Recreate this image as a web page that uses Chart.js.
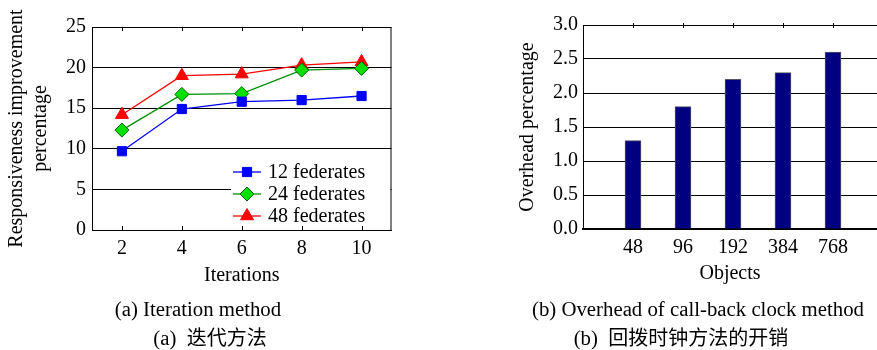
<!DOCTYPE html>
<html><head><meta charset="utf-8">
<script src="https://cdn.jsdelivr.net/npm/chart.js@4/dist/chart.umd.min.js"></script>
<style>
html,body{margin:0;padding:0;background:#fff;width:877px;height:350px;overflow:hidden;}
.box{position:absolute;}
.cap{position:absolute;font-family:"Liberation Serif",serif;font-size:20.8px;color:#000;white-space:nowrap;transform:translateX(-50%);line-height:24px;}
.cjk{font-family:"Noto Sans CJK SC",sans-serif;font-size:20px;}
</style></head><body>
<div class="box" style="left:0;top:0;width:400px;height:300px;"><canvas id="c1" width="400" height="300"></canvas></div>
<div class="box" style="left:500px;top:0;width:377px;height:300px;"><canvas id="c2" width="377" height="300"></canvas></div>
<div class="cap" style="left:198px;top:297px;">(a) Iteration method</div>
<div class="cap" style="left:210px;top:325px;">(a)&nbsp; <span class="cjk">迭代方法</span></div>
<div class="cap" style="left:698px;top:297px;">(b) Overhead of call-back clock method</div>
<div class="cap" style="left:681px;top:325px;">(b)&nbsp; <span class="cjk">回拨时钟方法的开销</span></div>
<script>
// ---- data: chart (a) ----
const iterations = [2, 4, 6, 8, 10];
const fed12 = [9.7, 14.9, 15.8, 16.0, 16.5];
const fed24 = [12.3, 16.7, 16.8, 19.7, 19.9];
const fed48 = [14.2, 19.0, 19.2, 20.3, 20.7];
const seriesLabels = ['12 federates', '24 federates', '48 federates'];
const yTicksA = [0, 5, 10, 15, 20, 25];
// ---- data: chart (b) ----
const objects = ['48', '96', '192', '384', '768'];
const overhead = [1.3, 1.8, 2.2, 2.3, 2.6];
const yTicksB = [0.0, 0.5, 1.0, 1.5, 2.0, 2.5, 3.0];

const SERIF = '"Liberation Serif", serif';
const f20 = {family: SERIF, size: 20, lineHeight: 1.2};

const boxPlugin = {
  id: 'boxA',
  afterDraw(chart) {
    const {ctx, chartArea: a} = chart;
    ctx.save();
    ctx.strokeStyle = '#000'; ctx.lineWidth = 1;
    ctx.strokeRect(a.left + 0.5, a.top + 0.5, a.right - a.left - 1, a.bottom - a.top);
    const xs = chart.scales.x;
    ctx.beginPath();
    iterations.forEach(v => {
      const px = Math.round(xs.getPixelForValue(v)) + 0.5;
      ctx.moveTo(px, a.bottom); ctx.lineTo(px, a.bottom - 4);
      ctx.moveTo(px, a.top); ctx.lineTo(px, a.top + 4);
    });
    ctx.stroke();
    ctx.restore();
  }
};

const legendPlugin = {
  id: 'legA',
  afterDatasetsDraw(chart) {
    const {ctx, chartArea: a} = chart;
    ctx.save();
    ctx.fillStyle = '#fff';
    ctx.fillRect(231, 161, a.right - 232, a.bottom - 162);
    const ys = [172, 194, 216];
    chart.data.datasets.forEach((ds, i) => {
      const y = ys[i];
      ctx.strokeStyle = ds.borderColor; ctx.lineWidth = 1.3;
      ctx.beginPath(); ctx.moveTo(233, y); ctx.lineTo(261, y); ctx.stroke();
      ctx.fillStyle = ds.pointBackgroundColor; ctx.strokeStyle = ds.pointBorderColor; ctx.lineWidth = 1;
      Chart.helpers.drawPoint(ctx, {pointStyle: ds.pointStyle, rotation: 0, borderWidth: 1, radius: ds.pointRadius}, 247, y);
      ctx.fillStyle = '#000';
      ctx.font = '20px ' + SERIF;
      ctx.textBaseline = 'middle'; ctx.textAlign = 'left';
      ctx.fillText(ds.label, 268, y + 1);
    });
    ctx.restore();
  }
};

function mk(label, vals, line, fill, border, style, r) {
  return {
    label, data: iterations.map((x, i) => ({x, y: vals[i]})),
    borderColor: line, borderWidth: 1.3,
    pointStyle: style, pointRadius: r, pointHoverRadius: r,
    pointBackgroundColor: fill, pointBorderColor: border, pointBorderWidth: 1,
    tension: 0, fill: false
  };
}

const dsA = [
  mk(seriesLabels[0], fed12, '#0000ff', '#0000ff', '#0000ee', 'rect', 6.5),
  mk(seriesLabels[1], fed24, '#009000', '#00e000', '#006000', 'rectRot', 7),
  mk(seriesLabels[2], fed48, '#ff0000', '#ff0000', '#ff0000', 'triangle', 7.5)
];

new Chart(document.getElementById('c1'), {
  type: 'line',
  data: {datasets: dsA},
  options: {
    responsive: false, animation: false, devicePixelRatio: 1,
    layout: {padding: {left: 0, right: 8, top: 27, bottom: 0}},
    plugins: {legend: {display: false}, tooltip: {enabled: false}},
    scales: {
      x: {
        type: 'linear', min: 1, max: 11,
        afterBuildTicks: s => { s.ticks = iterations.map(v => ({value: v})); },
        afterFit: s => { s.height = 70; },
        grid: {display: false, drawTicks: false},
        border: {display: true, color: '#000', width: 1},
        ticks: {font: f20, color: '#000', padding: 7, maxRotation: 0, autoSkip: false},
        title: {display: true, text: 'Iterations', font: f20, color: '#000', padding: {top: 0, bottom: 12}}
      },
      y: {
        min: 0, max: 25,
        afterBuildTicks: s => { s.ticks = yTicksA.map(v => ({value: v})); },
        afterFit: s => { s.width = 92; },
        grid: {color: '#000', lineWidth: 1, drawTicks: false},
        border: {display: true, color: '#000', width: 1},
        ticks: {font: f20, color: '#000', padding: 6},
        title: {display: true, text: ['Responsiveness improvement', 'percentage'], font: f20, color: '#000', padding: {top: 5, bottom: 0}}
      }
    }
  },
  plugins: [boxPlugin, legendPlugin]
});

const topTicksB = {
  id: 'topB',
  afterDraw(chart) {
    const {ctx, chartArea: a} = chart;
    const xs = chart.scales.x;
    ctx.save();
    ctx.strokeStyle = '#000'; ctx.lineWidth = 1;
    ctx.beginPath();
    objects.forEach((_, i) => {
      const px = Math.round(xs.getPixelForValue(i + 1)) + 0.5;
      ctx.moveTo(px, a.top - 2); ctx.lineTo(px, a.top + 3);
    });
    ctx.stroke();
    ctx.restore();
  }
};

new Chart(document.getElementById('c2'), {
  type: 'bar',
  data: {datasets: [{
    label: 'Overhead percentage',
    data: objects.map((o, i) => ({x: i + 1, y: overhead[i]})),
    backgroundColor: '#000080', borderColor: '#555566', borderWidth: {left: 1, right: 1, top: 1, bottom: 0},
    barThickness: 16
  }]},
  options: {
    responsive: false, animation: false, devicePixelRatio: 1,
    layout: {padding: {left: 0, right: 0, top: 25, bottom: 0}},
    plugins: {legend: {display: false}, tooltip: {enabled: false}},
    scales: {
      x: {
        type: 'linear', min: 0, max: 5.88, offset: false,
        afterBuildTicks: s => { s.ticks = objects.map((_, i) => ({value: i + 1})); },
        afterFit: s => { s.height = 71; },
        grid: {display: false, drawTicks: false},
        border: {display: true, color: '#000', width: 2},
        ticks: {font: f20, color: '#000', padding: 7, maxRotation: 0, autoSkip: false,
          callback: v => objects[v - 1]},
        title: {display: true, text: 'Objects', font: f20, color: '#000', padding: {top: 0, bottom: 14}}
      },
      y: {
        min: 0, max: 3,
        afterBuildTicks: s => { s.ticks = yTicksB.map(v => ({value: v})); },
        afterFit: s => { s.width = 83; },
        grid: {color: '#000', lineWidth: 1, drawTicks: false},
        border: {display: true, color: '#000', width: 1},
        ticks: {font: f20, color: '#000', padding: 5, callback: v => Number(v).toFixed(1)},
        title: {display: true, text: 'Overhead percentage', font: f20, color: '#000', padding: {top: 16, bottom: 0}}
      }
    }
  },
  plugins: [topTicksB]
});
</script>
</body></html>
